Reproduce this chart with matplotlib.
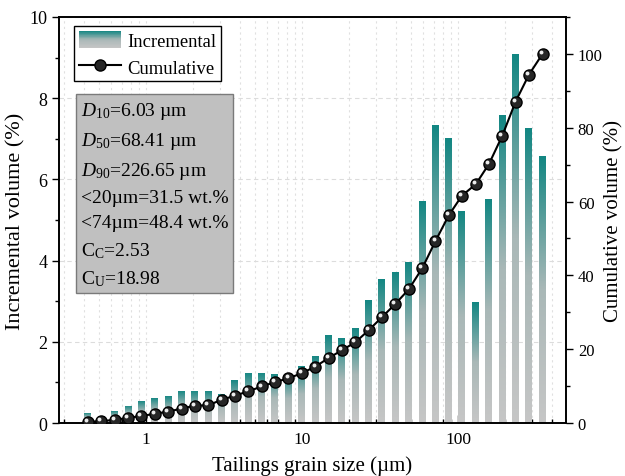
"""Incremental and cumulative grain size distribution of tailings."""

import matplotlib

matplotlib.use("Agg")
import matplotlib.pyplot as plt
import matplotlib.transforms as mtransforms
import numpy as np
from matplotlib.colors import LinearSegmentedColormap
from matplotlib.legend_handler import HandlerBase
from matplotlib.lines import Line2D
from matplotlib.patches import Rectangle
from matplotlib.ticker import LogLocator, MultipleLocator, NullFormatter

plt.rcParams["font.family"] = ["Liberation Serif", "DejaVu Serif"]
plt.rcParams["mathtext.fontset"] = "custom"
plt.rcParams["mathtext.rm"] = "Liberation Serif"
plt.rcParams["mathtext.it"] = "Liberation Serif:italic"

# grain size classes (um)
size_um = [0.425, 0.518, 0.630, 0.768, 0.935, 1.14, 1.39, 1.69, 2.06, 2.51,
           3.05, 3.72, 4.53, 5.52, 6.72, 8.19, 9.97, 12.2, 14.8, 18.0,
           22.0, 26.7, 32.6, 39.7, 48.3, 58.9, 71.7, 87.3, 106, 130,
           158, 192, 234, 285, 348]
incremental = [0.25, 0.18, 0.30, 0.43, 0.55, 0.62, 0.67, 0.80, 0.80, 0.80,
               0.73, 1.06, 1.25, 1.25, 1.23, 1.20, 1.41, 1.67, 2.17, 2.11,
               2.36, 3.05, 3.55, 3.74, 3.98, 5.48, 7.35, 7.04, 5.23, 2.99,
               5.54, 7.60, 9.11, 7.28, 6.60]
cumulative = [0.3, 0.5, 0.85, 1.4, 1.9, 2.5, 3.1, 3.9, 4.7, 4.8,
              6.3, 7.4, 8.6, 9.9, 11.1, 12.1, 13.5, 15.3, 17.6, 19.7,
              21.9, 25.1, 28.7, 32.3, 36.2, 41.9, 49.3, 56.3, 61.6, 64.7,
              70.2, 77.8, 87.1, 94.4, 100.0]
stats_lines = [
    r"$D_{10}$=6.03 µm",
    r"$D_{50}$=68.41 µm",
    r"$D_{90}$=226.65 µm",
    "<20µm=31.5 wt.%",
    "<74µm=48.4 wt.%",
    r"C$_\mathrm{C}$=2.53",
    r"C$_\mathrm{U}$=18.98",
]

cmap = LinearSegmentedColormap.from_list("tealgrey", ["#c6c6c6", "#a9b8b7", "#118682"])
grad = np.linspace(0, 1, 256).reshape(-1, 1)


class GradientHandler(HandlerBase):
    def create_artists(self, legend, orig_handle, xdescent, ydescent,
                       width, height, fontsize, trans):
        n = 30
        out = []
        for i in range(n):
            y0 = -ydescent + height * i / n
            out.append(Rectangle((-xdescent, y0), width, height / n * 1.05,
                                 facecolor=cmap(i / (n - 1)), edgecolor="none",
                                 transform=trans))
        return out


fig = plt.figure(figsize=(6.25, 4.77), dpi=100)
ax = fig.add_axes([0.0944, 0.1111, 0.8112, 0.8512])
ax.set_xscale("log")

half = 10 ** 0.023
for x, h in zip(size_um, incremental):
    ax.imshow(grad, extent=[x / half, x * half, 0, h], origin="lower",
              cmap=cmap, aspect="auto", interpolation="bilinear", zorder=2)

ax.set_xlim(0.277, 492)
ax.set_ylim(0, 10)
ax.set_aspect("auto")
ax.set_axisbelow(True)
ax.yaxis.set_major_locator(MultipleLocator(2))
ax.yaxis.set_minor_locator(MultipleLocator(1))
ax.set_xticks([1, 10, 100])
ax.set_xticklabels(["1", "10", "100"])
ax.xaxis.set_minor_locator(LogLocator(base=10, subs=np.arange(2, 10)))
ax.xaxis.set_minor_formatter(NullFormatter())
ax.grid(axis="y", which="major", ls=(0, (4, 3)), color="#dcdcdc", lw=0.8)
ax.grid(axis="x", which="both", ls=(0, (2, 3)), color="#e0e0e0", lw=0.8)
ax.tick_params(axis="x", which="major", direction="in", length=6, width=1, labelsize=12.5, pad=6)
ax.tick_params(axis="x", which="minor", direction="in", length=3, width=1)
ax.tick_params(axis="y", which="major", direction="out", length=5, width=1, labelsize=13)
ax.tick_params(axis="y", which="minor", direction="out", length=3, width=1)
ax.set_xlabel("Tailings grain size (µm)", fontsize=15, labelpad=6)
ax.set_ylabel("Incremental volume (%)", fontsize=16, labelpad=3)

ax2 = ax.twinx()
ax2.set_ylim(0, 110)
ax2.yaxis.set_major_locator(MultipleLocator(20))
ax2.yaxis.set_minor_locator(MultipleLocator(10))
ax2.tick_params(axis="y", which="major", direction="out", length=5, width=1, labelsize=12)
ax2.tick_params(axis="y", which="minor", direction="out", length=3, width=1)
ax2.set_ylabel("Cumulative volume (%)", fontsize=15, labelpad=1)

ax2.plot(size_um, cumulative, "-o", color="black", lw=1.5, ms=8,
         mfc="#262626", mec="black", mew=1, zorder=3)
shine = ax2.transData + mtransforms.ScaledTranslation(-1.4 / 72, 1.4 / 72, fig.dpi_scale_trans)
ax2.plot(size_um, cumulative, "o", ms=2.8, color="#ececec", mec="none",
         transform=shine, zorder=4)

for a in (ax, ax2):
    for s in a.spines.values():
        s.set_linewidth(1.2)

proxy = Rectangle((0, 0), 1, 1)
line_handle = Line2D([], [], color="black", lw=1.5, marker="o", ms=8,
                     mfc="#262626", mec="black")
leg = ax2.legend([proxy, line_handle], ["Incremental", "Cumulative"],
                 handler_map={proxy: GradientHandler()},
                 loc="upper left", bbox_to_anchor=(0.0296, 0.978), borderaxespad=0,
                 fontsize=13.4, fancybox=False, edgecolor="black", framealpha=1,
                 handlelength=2.3, handleheight=1.1, handletextpad=0.3,
                 borderpad=0.25, labelspacing=0.4)
leg.get_frame().set_linewidth(1.0)

ax2.text(0.043, 0.795, "\n".join(stats_lines), transform=ax2.transAxes,
         va="top", ha="left", fontsize=14, linespacing=1.6, zorder=5,
         bbox=dict(boxstyle="square,pad=0.25", fc="#c0c0c0", ec="#7a7a7a", lw=1))

fig.savefig("out.png", dpi=100)
